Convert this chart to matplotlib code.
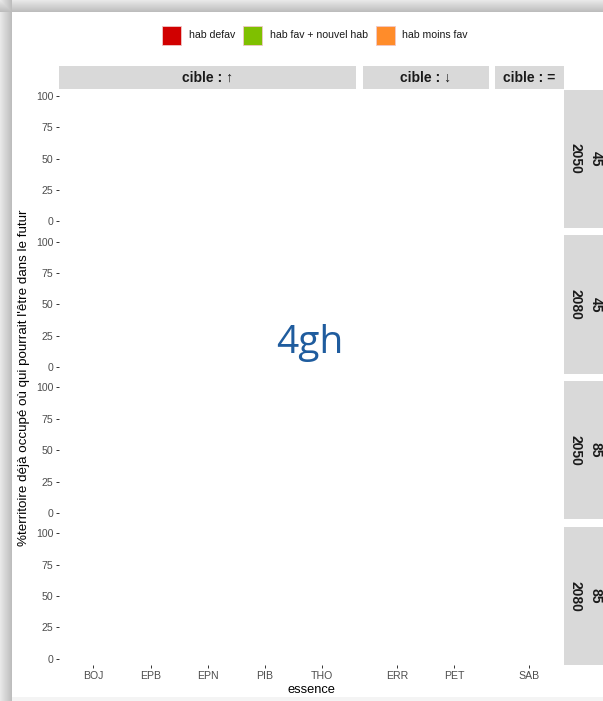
import numpy as np
import matplotlib.pyplot as plt
from matplotlib.patches import Rectangle

W, H = 603, 701

# --- data / labels ---
legend_labels = ["hab defav", "hab fav + nouvel hab", "hab moins fav"]
legend_colors = ["#D10000", "#7FC000", "#FF8C2A"]
col_labels = ["cible : ↑", "cible : ↓", "cible : ="]
col_species = [["BOJ", "EPB", "EPN", "PIB", "THO"], ["ERR", "PET"], ["SAB"]]
row_scen = ["45", "45", "85", "85"]
row_year = ["2050", "2080", "2050", "2080"]
y_ticks = [0, 25, 50, 75, 100]

FONT = ["Liberation Sans", "DejaVu Sans"]
plt.rcParams["font.family"] = FONT


def fig_box(x, y, w, h):
    # pixel box (top-left origin) -> figure fraction rect
    return [x / W, 1 - (y + h) / H, w / W, h / H]


def main():
    fig = plt.figure(figsize=(W / 100, H / 100), dpi=100)

    # screenshot shadow on top and left edges
    bg = np.ones((H, W, 3))
    band = 12
    for i in range(band):
        v = 0.91 - 0.18 * i / band
        bg[i, :, :] = np.minimum(bg[i, :, :], v)
        bg[:, i, :] = np.minimum(bg[:, i, :], v)
    bg[H - 4:, band:, :] = 0.96
    bax = fig.add_axes([0, 0, 1, 1], zorder=-10)
    bax.imshow(bg, aspect="auto", interpolation="bilinear")
    bax.axis("off")

    # panel geometry (pixels)
    unit = 57.2
    col_left = []
    x = 59
    col_w = []
    for sp in col_species:
        w = (len(sp) + 0.2) * unit
        col_left.append(x)
        col_w.append(w)
        x += w + 6.4
    right_edge = col_left[-1] + col_w[-1]
    row_top = [89.5, 235.3, 381.1, 526.9]
    row_h = 138.2

    strip_col = "#D9D9D9"
    for r in range(4):
        for c, sp in enumerate(col_species):
            ax = fig.add_axes(fig_box(col_left[c], row_top[r], col_w[c], row_h))
            ax.set_xlim(0.4, len(sp) + 0.6)
            ax.set_ylim(-5, 105)
            for s in ax.spines.values():
                s.set_visible(False)
            ax.tick_params(length=2.4, width=0.7, color="#333333",
                           labelcolor="#4D4D4D", labelsize=7.6, pad=1.5)
            ax.set_xticks(range(1, len(sp) + 1))
            if r == 3:
                ax.set_xticklabels(sp)
            else:
                ax.tick_params(axis="x", length=0, labelbottom=False)
            ax.set_yticks(y_ticks)
            if c == 0:
                ax.set_yticklabels([str(v) for v in y_ticks])
            else:
                ax.tick_params(axis="y", length=0, labelleft=False)

        # right strip
        sax = fig.add_axes(fig_box(right_edge + 0.5, row_top[r], 48, row_h))
        sax.set_facecolor(strip_col)
        sax.set_xticks([])
        sax.set_yticks([])
        for s in sax.spines.values():
            s.set_visible(False)
        ymid = 1 - (row_top[r] + row_h / 2) / H
        fig.text(576 / W, ymid, row_year[r], rotation=-90, ha="center",
                 va="center", fontsize=10, fontweight="bold", color="#1A1A1A")
        fig.text(596 / W, ymid, row_scen[r], rotation=-90, ha="center",
                 va="center", fontsize=10, fontweight="bold", color="#1A1A1A")

    # top strips
    for c, lab in enumerate(col_labels):
        tax = fig.add_axes(fig_box(col_left[c], 66, col_w[c], 23.3))
        tax.set_facecolor(strip_col)
        tax.set_xticks([])
        tax.set_yticks([])
        for s in tax.spines.values():
            s.set_visible(False)
        tax.text(0.5, 0.5, lab, transform=tax.transAxes, ha="center",
                 va="center", fontsize=10, fontweight="bold", color="#1A1A1A",
                 family=FONT)

    # legend
    key_x = [161.7, 242.5, 375.5]
    for kx, lab, col in zip(key_x, legend_labels, legend_colors):
        fig.patches.append(Rectangle((kx / W, 1 - 45 / H), 19.5 / W, 19 / H,
                                     transform=fig.transFigure, facecolor=col,
                                     edgecolor="#F0C8C8", linewidth=0.6))
        fig.text((kx + 27) / W, 1 - 35.5 / H, lab, ha="left", va="center",
                 fontsize=7.6, color="#1A1A1A")

    # axis titles
    fig.text((59 + right_edge) / 2 / W, 1 - 690 / H, "essence", ha="center",
             va="center", fontsize=9.3, color="#000000")
    fig.text(24 / W, 1 - 378 / H,
             "%territoire déjà occupé où qui pourrait l'être dans le futur",
             rotation=90, ha="center", va="center", fontsize=9.6, color="#000000")

    # overlay label
    fig.text(310 / W, 1 - 353 / H, "4gh", ha="center", va="baseline",
             fontsize=28, color="#1F5C9E", family=["Open Sans", "DejaVu Sans"])

    fig.savefig("out.png", dpi=100)


if __name__ == "__main__":
    main()
